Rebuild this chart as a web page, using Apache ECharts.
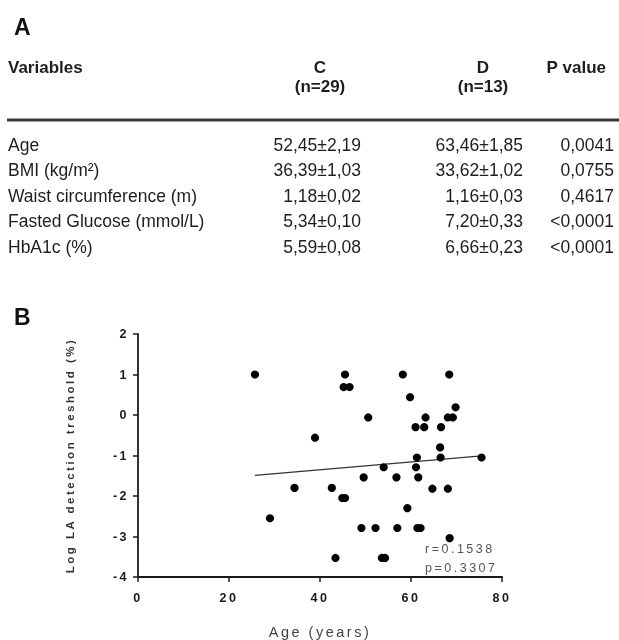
<!DOCTYPE html>
<html><head><meta charset="utf-8">
<script src="https://cdn.jsdelivr.net/npm/echarts@6/dist/echarts.min.js"></script>
<style>
html,body{margin:0;padding:0;background:#fff;}
#wrap{position:relative;width:619px;height:640px;overflow:hidden;}
#tableA,#plotB{position:absolute;left:0;top:0;width:619px;height:640px;}
#plotB text{letter-spacing:2.5px;}
</style></head><body>
<div id="wrap"><div id="tableA"></div><div id="plotB"></div></div>
<script>
// ---- Panel A: table ----
const panelLabels = ['A', 'B'];
const headerVariables = 'Variables';
const headerGroups = ['C', 'D'];
const headerGroupN = ['(n=29)', '(n=13)'];
const headerP = 'P value';
const tableVariables = ['Age', 'BMI (kg/m²)', 'Waist circumference (m)', 'Fasted Glucose (mmol/L)', 'HbA1c (%)'];
const groupCValues = ['52,45±2,19', '36,39±1,03', '1,18±0,02', '5,34±0,10', '5,59±0,08'];
const groupDValues = ['63,46±1,85', '33,62±1,02', '1,16±0,03', '7,20±0,33', '6,66±0,23'];
const pValues = ['0,0041', '0,0755', '0,4617', '<0,0001', '<0,0001'];

// ---- Panel B: scatter ----
const ages = [25.7, 45.5, 58.2, 68.4, 45.2, 46.5, 59.8, 69.8, 50.6, 63.2, 68.1, 69.2, 61.0, 62.9, 66.6, 38.9, 66.4, 61.3, 66.5, 75.5, 54.0, 61.1, 49.6, 56.8, 61.6, 34.4, 42.6, 64.7, 68.1, 44.9, 45.5, 59.2, 29.0, 49.1, 52.2, 57.0, 61.4, 62.1, 68.5, 43.4, 53.6, 54.3];
const logLA = [1.0, 1.0, 1.0, 1.0, 0.69, 0.69, 0.44, 0.19, -0.06, -0.06, -0.06, -0.06, -0.30, -0.30, -0.30, -0.56, -0.80, -1.05, -1.05, -1.05, -1.29, -1.29, -1.54, -1.54, -1.54, -1.80, -1.80, -1.82, -1.82, -2.05, -2.05, -2.30, -2.55, -2.79, -2.79, -2.79, -2.79, -2.79, -3.04, -3.53, -3.53, -3.53];
const fitAge = [25.7, 75.5];
const fitLogLA = [-1.49, -1.01];
const statsText = ['r=0.1538', 'p=0.3307'];
const xAxisTitle = 'Age (years)';
const yAxisTitle = 'Log LA detection treshold (%)';

// ---- layout (not data) ----
const FONT = '"Liberation Sans", Arial, Helvetica, sans-serif';
const rowY = [146, 171.5, 197, 222.5, 248];
const colCRight = 361, colDRight = 523, colPRight = 614;
const headC = 320, headD = 483;

function txt(text, x, y, align, font, fill) {
  return { type: 'text', x: x, y: y, silent: true,
    style: { text: text, font: font, fill: fill || '#1e1e1e', textAlign: align, align: align, textVerticalAlign: 'middle', verticalAlign: 'middle' } };
}

const gA = [];
gA.push(txt(panelLabels[0], 14, 29, 'left', 'bold 23px ' + FONT, '#111'));
gA.push(txt(panelLabels[1], 14, 319, 'left', 'bold 23px ' + FONT, '#111'));
gA.push(txt(headerVariables, 8, 68, 'left', 'bold 17px ' + FONT));
gA.push(txt(headerGroups[0], headC, 68, 'center', 'bold 17px ' + FONT));
gA.push(txt(headerGroups[1], headD, 68, 'center', 'bold 17px ' + FONT));
gA.push(txt(headerGroupN[0], headC, 87, 'center', 'bold 17px ' + FONT));
gA.push(txt(headerGroupN[1], headD, 87, 'center', 'bold 17px ' + FONT));
gA.push(txt(headerP, 606, 68, 'right', 'bold 17px ' + FONT));
gA.push({ type: 'line', silent: true, shape: { x1: 7, y1: 120, x2: 619, y2: 120 }, style: { stroke: '#3a3a3a', lineWidth: 3 } });
tableVariables.forEach(function (v, i) {
  gA.push(txt(v, 8, rowY[i], 'left', '17.5px ' + FONT));
  gA.push(txt(groupCValues[i], colCRight, rowY[i], 'right', '17.5px ' + FONT));
  gA.push(txt(groupDValues[i], colDRight, rowY[i], 'right', '17.5px ' + FONT));
  gA.push(txt(pValues[i], colPRight, rowY[i], 'right', '17.5px ' + FONT));
});

const chartA = echarts.init(document.getElementById('tableA'), null, { renderer: 'canvas' });
chartA.setOption({ backgroundColor: '#fff', animation: false, graphic: { elements: gA } });

// ---- Panel B chart ----
const chartB = echarts.init(document.getElementById('plotB'), null, { renderer: 'svg' });
const scatterData = ages.map(function (a, i) { return [a, logLA[i]]; });
const fitData = fitAge.map(function (a, i) { return [a, fitLogLA[i]]; });
chartB.setOption({
  animation: false,
  grid: { left: 138, top: 334, right: 117, bottom: 63, containLabel: false },
  xAxis: {
    type: 'value', min: 0, max: 80, interval: 20,
    name: xAxisTitle, nameLocation: 'middle', nameGap: 47,
    nameTextStyle: { fontFamily: FONT, fontSize: 14.5, color: '#444' },
    axisLine: { show: true, onZero: false, lineStyle: { color: '#1a1a1a', width: 1.8 } },
    axisTick: { show: true, length: 5, lineStyle: { color: '#1a1a1a', width: 1.5 } },
    axisLabel: { fontFamily: FONT, fontSize: 12.5, fontWeight: 'bold', color: '#1a1a1a', margin: 14 },
    splitLine: { show: false }
  },
  yAxis: {
    type: 'value', min: -4, max: 2, interval: 1,
    name: yAxisTitle, nameLocation: 'middle', nameGap: 62,
    nameTextStyle: { fontFamily: FONT, fontSize: 11.5, fontWeight: 'bold', color: '#333' },
    axisLine: { show: true, onZero: false, lineStyle: { color: '#1a1a1a', width: 1.8 } },
    axisTick: { show: true, length: 5, lineStyle: { color: '#1a1a1a', width: 1.5 } },
    axisLabel: { fontFamily: FONT, fontSize: 12.5, fontWeight: 'bold', color: '#1a1a1a', margin: 9 },
    splitLine: { show: false }
  },
  series: [
    { type: 'line', data: fitData, symbol: 'none', silent: true, z: 1,
      lineStyle: { color: '#333', width: 1.3 } },
    { type: 'scatter', data: scatterData, symbol: 'circle', symbolSize: 8.2, silent: true, z: 2,
      itemStyle: { color: '#000', opacity: 1 } }
  ],
  graphic: { elements: [
    { type: 'text', x: 425, y: 549, silent: true, style: { text: statsText[0], font: '12.5px ' + FONT, fill: '#555', textVerticalAlign: 'middle', verticalAlign: 'middle' } },
    { type: 'text', x: 425, y: 568, silent: true, style: { text: statsText[1], font: '12.5px ' + FONT, fill: '#555', textVerticalAlign: 'middle', verticalAlign: 'middle' } }
  ] }
});
</script>
</body></html>
